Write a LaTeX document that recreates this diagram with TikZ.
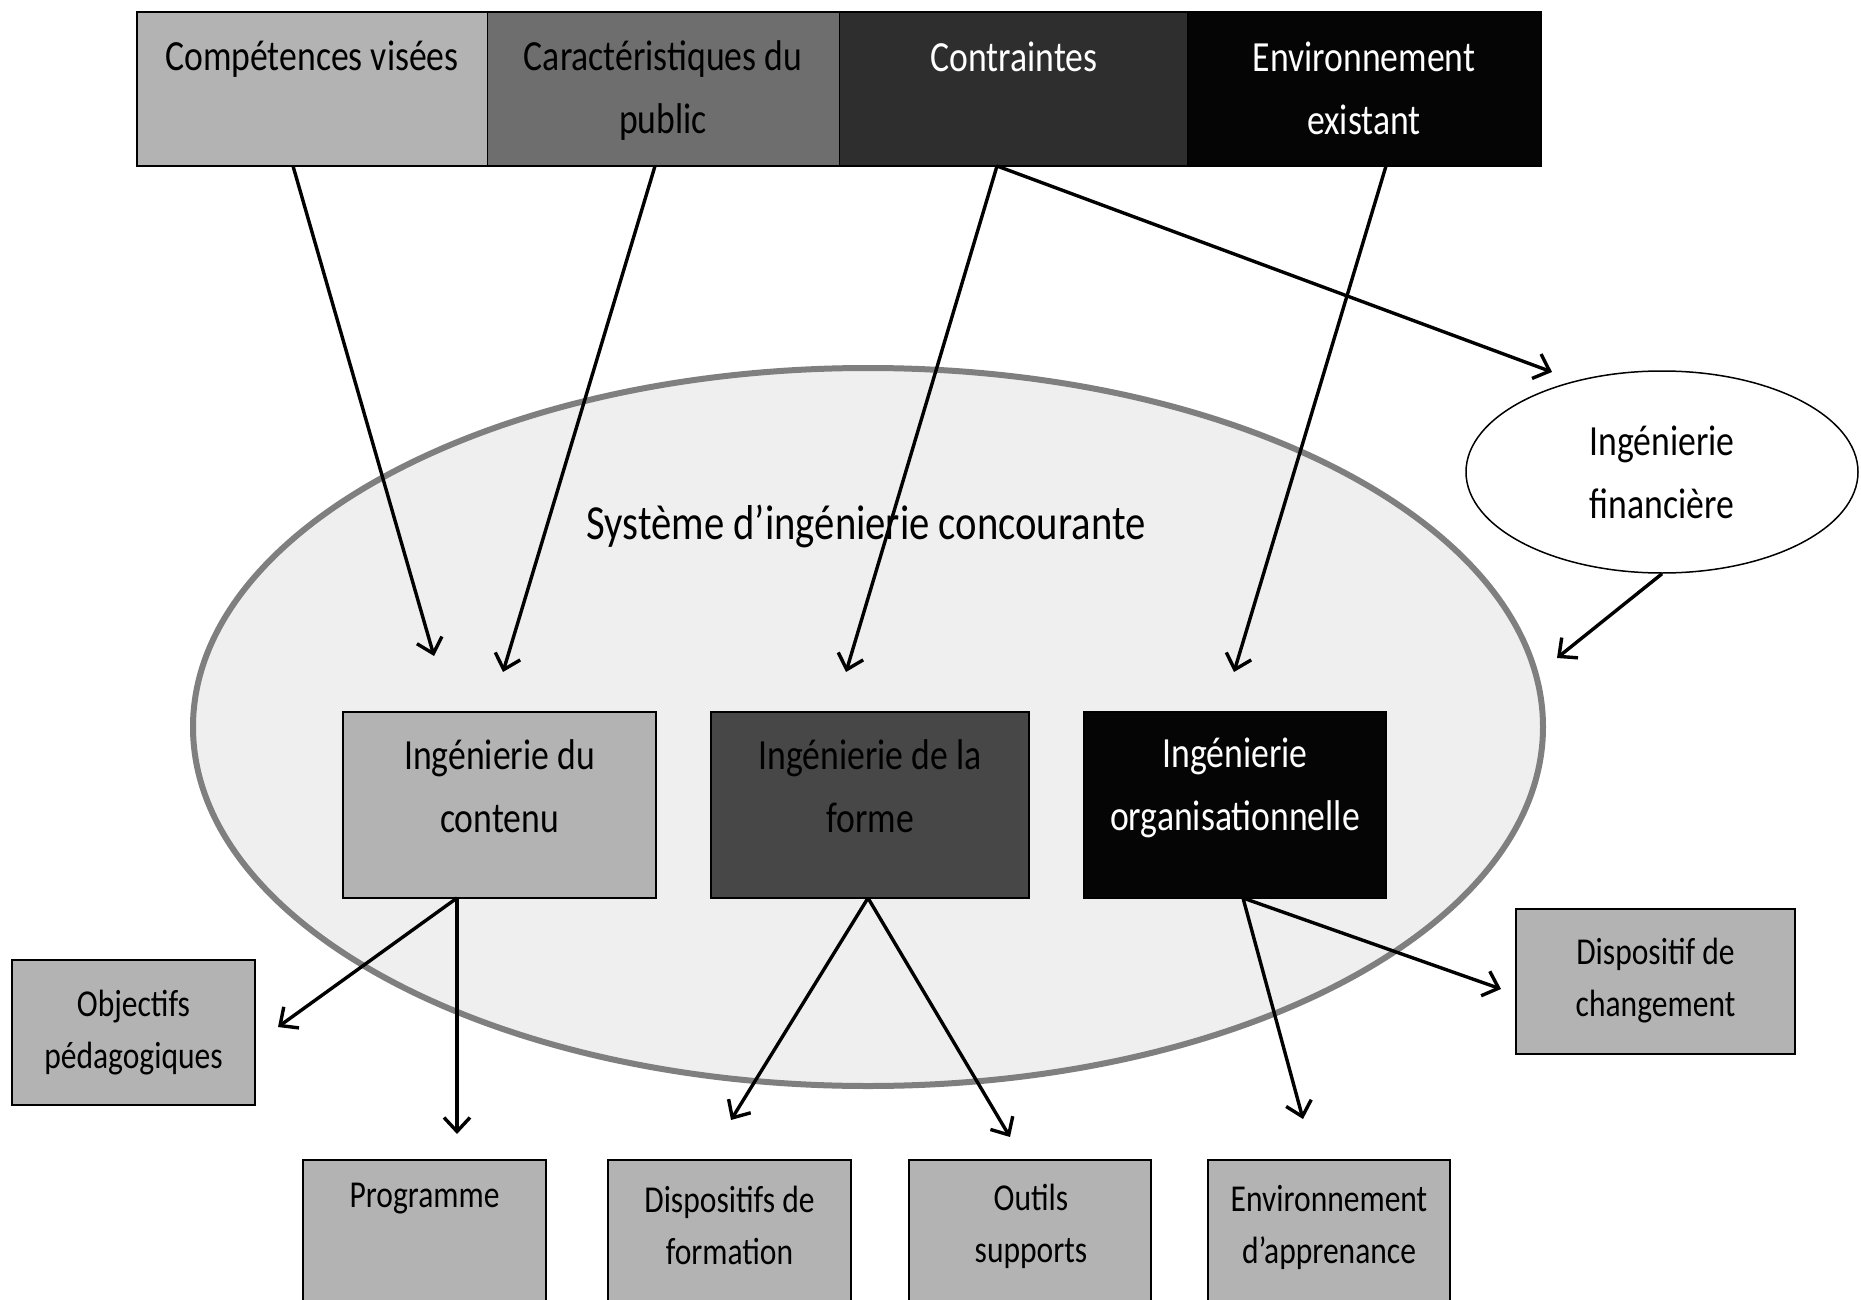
\documentclass[tikz,border=0pt]{standalone}
\usepackage{fontspec}
\setmainfont[FakeStretch=0.83]{Carlito}
\usetikzlibrary{arrows.meta,shapes.geometric}
\definecolor{lightbox}{HTML}{B3B3B3}
\definecolor{midbox}{HTML}{6E6E6E}
\definecolor{darkbox}{HTML}{2E2E2E}
\definecolor{blackbox}{HTML}{050505}
\definecolor{formbox}{HTML}{474747}
\definecolor{sysfill}{HTML}{EFEFEF}
\definecolor{sysline}{HTML}{7F7F7F}
\tikzset{
  bigtxt/.style={font=\fontsize{43}{63}\selectfont, align=center, inner sep=0},
  smalltxt/.style={font=\fontsize{38}{52}\selectfont, align=center, inner sep=0},
  headcell/.style={rectangle, draw=black, line width=1.2, minimum height=154, inner sep=0, outer sep=0},
  engbox/.style={rectangle, draw=black, line width=2.5, minimum height=186, inner sep=0},
  outbox/.style={rectangle, draw=black, line width=2, fill=lightbox, minimum width=243, minimum height=145, inner sep=0},
  flow/.style={line width=3.4, -{Straight Barb[length=14,width=26]}},
}
\begin{document}
\begin{tikzpicture}[x=1pt, y=-1pt]
\clip (0,0) rectangle (1861,1300);
\fill[white] (0,0) rectangle (1861,1300);

% header bar
\node[headcell, fill=lightbox, minimum width=351.3] (comp) at (312.15,89) {};
\node[headcell, fill=midbox, minimum width=351.3] (carac) at (663.45,89) {};
\node[headcell, fill=darkbox, minimum width=348.9] (contr) at (1013.55,89) {};
\node[headcell, fill=blackbox, minimum width=352.6] (envx) at (1364.3,89) {};
\draw[line width=2] (comp.north west) rectangle (envx.south east);
\node[bigtxt] (compt) at (312,59) {Compétences visées};
\node[bigtxt] (caract) at (663,91) {Caractéristiques du\\public};
\node[bigtxt, text=white] (contrt) at (1014,57) {Contraintes};
\node[bigtxt, text=white] (envxt) at (1364,88) {Environnement\\existant};

% concurrent engineering system
\node[ellipse, draw=sysline, fill=sysfill, line width=6, minimum width=1350, minimum height=718, inner sep=0] (sys) at (868,727) {};
\node[font=\fontsize{49}{60}\selectfont, inner sep=0] (systxt) at (866,526) {Système d’ingénierie concourante};

% engineering boxes
\node[engbox, fill=lightbox, minimum width=313] (cont) at (499.5,805) {};
\node[engbox, fill=formbox, minimum width=318] (forme) at (870,805) {};
\node[engbox, fill=blackbox, minimum width=302] (orga) at (1235,805) {};
\node[bigtxt] (contt) at (499.5,786) {Ingénierie du\\contenu};
\node[bigtxt] (formet) at (870,786) {Ingénierie de la\\forme};
\node[bigtxt, text=white] (orgat) at (1235,788) {Ingénierie\\organisationnelle};

% financial engineering
\node[ellipse, draw=black, fill=white, line width=1.5, minimum width=392, minimum height=202, bigtxt] (fin) at (1662,472) {Ingénierie\\financière};

% outputs
\node[outbox, smalltxt] (obj) at (133.5,1032.5) {Objectifs\\pédagogiques};
\node[outbox, smalltxt, minimum width=279] (chg) at (1655.5,981) {Dispositif de\\changement};
\node[outbox] (prog) at (424.5,1232.5) {};
\node[smalltxt] (progt) at (424.5,1199) {Programme};
\node[outbox] (disp) at (729.5,1232.5) {};
\node[outbox, minimum width=242] (outil) at (1030,1232.5) {};
\node[outbox, minimum width=242] (envapp) at (1329,1232.5) {};
\node[smalltxt] (dispt) at (729.5,1225) {Dispositifs de\\formation};
\node[smalltxt] (outilt) at (1031,1226) {Outils\\supports};
\node[smalltxt] (envappt) at (1329,1227) {Environnement\\d’apprenance};

% connector end points
\coordinate (compout) at (293,166);
\coordinate (caracout) at (655,166);
\coordinate (controut) at (997,166);
\coordinate (envxout) at (1386,166);
\coordinate (contin1) at (434,656);
\coordinate (contin2) at (503,672);
\coordinate (formein) at (846,672);
\coordinate (orgain) at (1234,672);
\coordinate (finin) at (1552,372);
\coordinate (sysin) at (1557,658);
\coordinate (contout) at (457,898);
\coordinate (formeout) at (868,898);
\coordinate (orgaout) at (1243,898);
\coordinate (objin) at (278,1027);
\coordinate (progin) at (457,1134);
\coordinate (dispin) at (731,1120);
\coordinate (outilin) at (1010,1137);
\coordinate (envappin) at (1303,1119);
\coordinate (chgin) at (1501,989);

% connectors
\draw[flow] (compout) -- (contin1);
\draw[flow] (caracout) -- (contin2);
\draw[flow] (controut) -- (formein);
\draw[flow] (controut) -- (finin);
\draw[flow] (envxout) -- (orgain);
\draw[flow] (fin.south) -- (sysin);
\draw[flow] (contout) -- (objin);
\draw[flow] (contout) -- (progin);
\draw[flow] (formeout) -- (dispin);
\draw[flow] (formeout) -- (outilin);
\draw[flow] (orgaout) -- (envappin);
\draw[flow] (orgaout) -- (chgin);
\end{tikzpicture}
\end{document}
